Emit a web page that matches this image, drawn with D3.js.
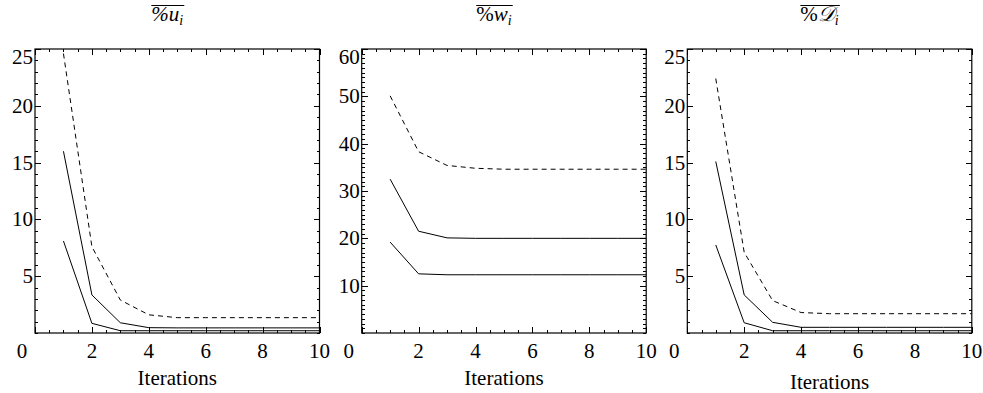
<!DOCTYPE html>
<html>
<head>
<meta charset="utf-8">
<script src="https://cdn.jsdelivr.net/npm/d3@7"></script>
<style>
  body { margin: 0; background: #fff; }
  svg { display: block; font-family: "Liberation Serif", "Times New Roman", serif; }
  .tick line { shape-rendering: crispEdges; }
</style>
</head>
<body>
<svg id="chart" width="983" height="393"></svg>
<script>
(function () {
    'use strict';

    // data
    const iterations = [1, 2, 3, 4, 5, 6, 7, 8, 9, 10];

    const uDashed = [24.6, 7.6, 2.9, 1.6, 1.35, 1.35, 1.35, 1.35, 1.35, 1.35];
    const uUpper  = [16.0, 3.35, 0.9, 0.47, 0.45, 0.45, 0.45, 0.45, 0.45, 0.45];
    const uLower  = [8.1, 0.85, 0.2, 0.2, 0.2, 0.2, 0.2, 0.2, 0.2, 0.2];

    const wDashed = [50.1, 38.3, 35.4, 34.8, 34.6, 34.6, 34.6, 34.6, 34.6, 34.6];
    const wUpper  = [32.5, 21.5, 20.1, 20.0, 20.0, 20.0, 20.0, 20.0, 20.0, 20.0];
    const wLower  = [19.2, 12.5, 12.3, 12.3, 12.3, 12.3, 12.3, 12.3, 12.3, 12.3];

    const dDashed = [22.4, 7.1, 2.85, 1.8, 1.7, 1.7, 1.7, 1.7, 1.7, 1.7];
    const dUpper  = [15.1, 3.35, 0.94, 0.5, 0.5, 0.5, 0.5, 0.5, 0.5, 0.5];
    const dLower  = [7.75, 0.9, 0.2, 0.2, 0.2, 0.2, 0.2, 0.2, 0.2, 0.2];

    const xTicks = [0, 2, 4, 6, 8, 10];
    const yTicksSmall = [5, 10, 15, 20, 25];
    const yTicksLarge = [10, 20, 30, 40, 50, 60];

    const panels = [
        {left: 35, yMax: 25, yTicks: yTicksSmall, title: ["%", "u", "i"], pctItalic: true,
         series: [uDashed, uUpper, uLower], labelY: 385},
        {left: 361.7, yMax: 60, yTicks: yTicksLarge, title: ["%", "w", "i"], pctItalic: false,
         series: [wDashed, wUpper, wLower], labelY: 385},
        {left: 687.3, yMax: 25, yTicks: yTicksSmall, title: ["%", "\u{1D49F}", "i"], pctItalic: false,
         series: [dDashed, dUpper, dLower], labelY: 389}
    ];

    const pw = 284.5, top = 49, bottom = 333;
    const svg = d3.select("#chart");

    const tickMarks = (g, axis, tr, size) => {
        g.append("g").attr("transform", tr)
            .call(axis.tickSize(size).tickFormat(""))
            .call(s => s.select(".domain").remove())
            .call(s => s.selectAll(".tick line").attr("stroke", "#000"));
    };

    panels.forEach(p => {
        const x = d3.scaleLinear().domain([0, 10]).range([p.left, p.left + pw]);
        const y = d3.scaleLinear().domain([0, p.yMax]).range([bottom, top]);
        const g = svg.append("g");

        const xMinor = d3.range(0, 10.01, 0.5).filter(v => v % 2 !== 0);
        const yMinor = d3.range(0, p.yMax + 0.01, 1).filter(v => !p.yTicks.includes(v));

        // ticks on all four sides, pointing inward
        tickMarks(g, d3.axisBottom(x).tickValues(xMinor), `translate(0,${bottom})`, -3);
        tickMarks(g, d3.axisTop(x).tickValues(xMinor), `translate(0,${top})`, -3);
        tickMarks(g, d3.axisLeft(y).tickValues(yMinor), `translate(${p.left},0)`, -3);
        tickMarks(g, d3.axisRight(y).tickValues(yMinor), `translate(${p.left + pw},0)`, -3);
        tickMarks(g, d3.axisBottom(x).tickValues(xTicks), `translate(0,${bottom})`, -6);
        tickMarks(g, d3.axisTop(x).tickValues(xTicks), `translate(0,${top})`, -6);
        tickMarks(g, d3.axisLeft(y).tickValues(p.yTicks), `translate(${p.left},0)`, -6);
        tickMarks(g, d3.axisRight(y).tickValues(p.yTicks), `translate(${p.left + pw},0)`, -6);

        // tick labels
        g.append("g").selectAll("text")
            .data(xTicks)
            .join("text")
            .attr("x", d => x(d) + (d === 0 ? -13 : 0))
            .attr("y", bottom + 25)
            .attr("text-anchor", "middle")
            .attr("font-size", 21)
            .text(d => d);
        g.append("g").selectAll("text")
            .data(p.yTicks)
            .join("text")
            .attr("x", p.left - 2)
            .attr("y", d => y(d))
            .attr("dy", d => d === p.yMax ? "0.7em" : "0.33em")
            .attr("text-anchor", "end")
            .attr("font-size", 21)
            .text(d => d);

        // lines
        const line = d3.line().x((d, i) => x(iterations[i])).y(d => y(d));
        p.series.forEach((vals, i) => {
            g.append("path")
                .datum(vals)
                .attr("fill", "none")
                .attr("stroke", "#000")
                .attr("stroke-width", 1)
                .attr("stroke-dasharray", i === 0 ? "5,4" : null)
                .attr("d", line);
        });

        // frame
        g.append("rect")
            .attr("x", p.left).attr("y", top)
            .attr("width", pw).attr("height", bottom - top)
            .attr("fill", "none").attr("stroke", "#000").attr("stroke-width", 1.2);

        // x label
        g.append("text")
            .attr("x", p.left + pw / 2).attr("y", p.labelY)
            .attr("text-anchor", "middle").attr("font-size", 21)
            .text("Iterations");

        // title with overline
        const t = g.append("text")
            .attr("x", p.left + pw / 2 - 10).attr("y", 21)
            .attr("text-anchor", "middle").attr("font-size", 21);
        t.append("tspan").attr("font-style", p.pctItalic ? "italic" : null).text(p.title[0]);
        t.append("tspan").attr("font-style", "italic").text(p.title[1]);
        t.append("tspan").attr("font-style", "italic").attr("font-size", 14).attr("dy", 4).text(p.title[2]);
        const bb = t.node().getBBox();
        g.append("line")
            .attr("x1", bb.x).attr("x2", bb.x + bb.width + 1)
            .attr("y1", 5.5).attr("y2", 5.5)
            .attr("stroke", "#000").attr("stroke-width", 1);
    });
}());
</script>
</body>
</html>
